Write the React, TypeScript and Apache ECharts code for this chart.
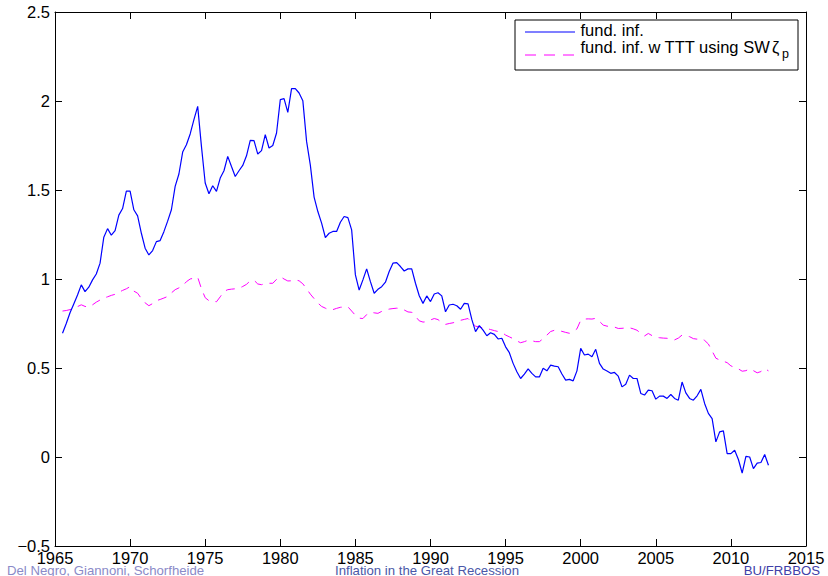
import React, { useEffect, useRef } from "react";
import * as echarts from "echarts";

// Quarterly observations, first one at 1965.50, last at 2012.50
const START_YEAR = 1965.5;
const QUARTER = 0.25;

const fundInf: number[] = [
  0.695, 0.75,
  0.81, 0.86, 0.91, 0.967,
  0.929, 0.954, 0.995, 1.028,
  1.089, 1.235, 1.283, 1.246,
  1.272, 1.359, 1.396, 1.494,
  1.494, 1.389, 1.355, 1.257,
  1.173, 1.135, 1.16, 1.21,
  1.216, 1.266, 1.325, 1.389,
  1.52, 1.59, 1.713, 1.754,
  1.815, 1.895, 1.97, 1.745,
  1.539, 1.479, 1.524, 1.492,
  1.567, 1.608, 1.689, 1.632,
  1.576, 1.608, 1.638, 1.692,
  1.779, 1.777, 1.702, 1.721,
  1.811, 1.736, 1.75, 1.82,
  2.008, 2.013, 1.936, 2.07,
  2.07, 2.045, 2.002, 1.773,
  1.64, 1.46, 1.379, 1.314,
  1.233, 1.257, 1.267, 1.267,
  1.319, 1.351, 1.345, 1.276,
  1.023, 0.938, 0.995, 1.057,
  0.985, 0.92, 0.942, 0.957,
  0.982, 1.042, 1.089, 1.092,
  1.07, 1.045, 1.057, 1.057,
  0.976, 0.906, 0.863, 0.905,
  0.873, 0.916, 0.923, 0.905,
  0.816, 0.854, 0.858, 0.85,
  0.83, 0.863, 0.86, 0.773,
  0.704, 0.738, 0.713, 0.681,
  0.698, 0.689, 0.663, 0.667,
  0.619, 0.586, 0.526, 0.479,
  0.441, 0.466, 0.495, 0.47,
  0.45, 0.45, 0.498, 0.484,
  0.516, 0.511, 0.507, 0.466,
  0.432, 0.436, 0.428, 0.484,
  0.61, 0.573, 0.578, 0.563,
  0.605, 0.526, 0.494, 0.483,
  0.47, 0.475, 0.454, 0.394,
  0.409, 0.46, 0.441, 0.441,
  0.357, 0.348, 0.376, 0.372,
  0.325, 0.342, 0.342, 0.329,
  0.351, 0.329, 0.319, 0.421,
  0.36, 0.329, 0.319, 0.344,
  0.38, 0.301, 0.245, 0.216,
  0.085, 0.141, 0.147, 0.019,
  0.019, 0.038, -0.014, -0.09,
  0.004, 0.0, -0.065, -0.034,
  -0.031, 0.014, -0.046,
];

const fundInfTTT: number[] = [
  0.82, 0.823,
  0.828, 0.835, 0.845, 0.855,
  0.846, 0.842, 0.855, 0.87,
  0.882, 0.893, 0.9, 0.908,
  0.914, 0.925, 0.936, 0.945,
  0.957, 0.932, 0.92, 0.89,
  0.866, 0.85, 0.862, 0.878,
  0.885, 0.893, 0.902, 0.922,
  0.94, 0.95, 0.962, 0.985,
  1.0, 1.005, 1.01, 0.945,
  0.895, 0.878, 0.876, 0.872,
  0.9, 0.93, 0.94, 0.943,
  0.945, 0.948, 0.958, 0.97,
  0.99, 0.993, 0.972, 0.968,
  0.975, 0.976, 0.976, 0.998,
  1.013, 1.0, 0.989, 0.99,
  0.995, 0.99, 0.973, 0.945,
  0.915, 0.89, 0.865, 0.846,
  0.836, 0.826, 0.828, 0.835,
  0.841, 0.843, 0.844, 0.82,
  0.796, 0.78, 0.778, 0.8,
  0.813, 0.81, 0.807, 0.818,
  0.826, 0.831, 0.834, 0.836,
  0.835, 0.826, 0.815, 0.813,
  0.79, 0.765, 0.758, 0.76,
  0.77, 0.778, 0.772, 0.755,
  0.745, 0.75, 0.754, 0.76,
  0.768, 0.773, 0.778, 0.755,
  0.735, 0.73, 0.726, 0.722,
  0.716, 0.71, 0.705, 0.7,
  0.685, 0.675, 0.665, 0.652,
  0.642, 0.648, 0.656, 0.653,
  0.648, 0.648, 0.665, 0.685,
  0.705, 0.712, 0.71, 0.706,
  0.7, 0.695, 0.705, 0.72,
  0.768, 0.775, 0.776, 0.775,
  0.779, 0.762, 0.741, 0.735,
  0.733, 0.73, 0.722, 0.723,
  0.725, 0.726, 0.72, 0.712,
  0.695, 0.68, 0.694, 0.682,
  0.673, 0.67, 0.668, 0.667,
  0.662, 0.658, 0.668, 0.685,
  0.68, 0.676, 0.665, 0.662,
  0.667, 0.655, 0.635, 0.595,
  0.555, 0.545, 0.538, 0.53,
  0.512, 0.503, 0.495, 0.482,
  0.485, 0.496, 0.485, 0.473,
  0.48, 0.497, 0.484,
];

const X_MIN = 1965;
const X_MAX = 2015;
const X_STEP = 5;
const Y_MIN = -0.5;
const Y_MAX = 2.5;
const Y_STEP = 0.5;

const legendNames = ["fund. inf.", "fund. inf. w TTT using SW"];
const footer = ["Del Negro, Giannoni, Schorfheide", "Inflation in the Great Recession", "BU/FRBBOS"];

const FONT = "'Liberation Sans', Arial, Helvetica, sans-serif";

function toPairs(vals: number[]): [number, number][] {
  return vals.map((v, i) => [START_YEAR + i * QUARTER, v]);
}

export default function App() {
  const ref = useRef<HTMLDivElement>(null);

  useEffect(() => {
    if (!ref.current) return;
    const chart = echarts.init(ref.current, undefined, { renderer: "svg" });

    const tick = { show: true, inside: true, length: 7, lineStyle: { color: "#000", width: 1 } };
    const axisLine = { show: true, onZero: false, lineStyle: { color: "#000", width: 1 } };
    const label = { color: "#000", fontSize: 16.5, fontFamily: FONT };

    chart.setOption({
      animation: false,
      backgroundColor: "#fff",
      grid: { left: 55, top: 12, right: 22, bottom: 30, containLabel: false },
      xAxis: [
        {
          type: "value",
          min: X_MIN,
          max: X_MAX,
          interval: X_STEP,
          position: "bottom",
          axisLine,
          axisTick: tick,
          splitLine: { show: false },
          axisLabel: { ...label, margin: 3, formatter: (v: number) => String(v) },
        },
        {
          type: "value",
          min: X_MIN,
          max: X_MAX,
          interval: X_STEP,
          position: "top",
          axisLine,
          axisTick: tick,
          splitLine: { show: false },
          axisLabel: { show: false },
        },
      ],
      yAxis: [
        {
          type: "value",
          min: Y_MIN,
          max: Y_MAX,
          interval: Y_STEP,
          position: "left",
          axisLine,
          axisTick: tick,
          splitLine: { show: false },
          axisLabel: {
            ...label,
            margin: 5,
            formatter: (v: number) => (v < 0 ? "\u2212" + String(Math.abs(v)) : String(v)),
          },
        },
        {
          type: "value",
          min: Y_MIN,
          max: Y_MAX,
          interval: Y_STEP,
          position: "right",
          axisLine,
          axisTick: tick,
          splitLine: { show: false },
          axisLabel: { show: false },
        },
      ],
      series: [
        {
          name: legendNames[0],
          type: "line",
          data: toPairs(fundInf),
          xAxisIndex: 0,
          yAxisIndex: 0,
          symbol: "none",
          showSymbol: false,
          lineStyle: { color: "#0000ff", width: 1.2 },
          z: 3,
        },
        {
          name: legendNames[1],
          type: "line",
          data: toPairs(fundInfTTT),
          xAxisIndex: 0,
          yAxisIndex: 0,
          symbol: "none",
          showSymbol: false,
          lineStyle: { color: "#ff00ff", width: 1, type: [9, 7] },
          z: 2,
        },
      ],
      graphic: [
        {
          type: "rect",
          shape: { x: 515, y: 20, width: 283, height: 50 },
          style: { fill: "#fff", stroke: "#000", lineWidth: 1 },
          z: 10,
        },
        {
          type: "line",
          shape: { x1: 525, y1: 32, x2: 575, y2: 32 },
          style: { stroke: "#0000ff", lineWidth: 1.2 },
          z: 11,
        },
        {
          type: "line",
          shape: { x1: 525, y1: 55, x2: 575, y2: 55 },
          style: { stroke: "#ff00ff", lineWidth: 1, lineDash: [11, 8] },
          z: 11,
        },
        {
          type: "text",
          x: 580.5,
          y: 29.5,
          style: { text: legendNames[0], fill: "#000", fontSize: 16.5, fontFamily: FONT, verticalAlign: "middle" },
          z: 11,
        },
        {
          type: "text",
          x: 580.5,
          y: 47,
          style: { text: legendNames[1], fill: "#000", fontSize: 16.5, fontFamily: FONT, verticalAlign: "middle" },
          z: 11,
        },
        {
          type: "text",
          x: 772,
          y: 47,
          style: { text: "\u03B6", fill: "#000", fontSize: 16.5, fontFamily: FONT, verticalAlign: "middle" },
          z: 11,
        },
        {
          type: "text",
          x: 782,
          y: 54,
          style: { text: "p", fill: "#000", fontSize: 12.5, fontFamily: FONT, verticalAlign: "middle" },
          z: 11,
        },
        {
          type: "text",
          x: 7,
          y: 570.5,
          style: { text: footer[0], fill: "#8a8ac8", fontSize: 13.2, fontFamily: FONT, verticalAlign: "middle" },
        },
        {
          type: "text",
          x: 427,
          y: 570.5,
          style: { text: footer[1], fill: "#4a58a8", fontSize: 13.2, fontFamily: FONT, verticalAlign: "middle", align: "center" },
        },
        {
          type: "text",
          x: 820,
          y: 570.5,
          style: { text: footer[2], fill: "#4040a8", fontSize: 13.2, fontFamily: FONT, verticalAlign: "middle", align: "right" },
        },
      ],
    });

    return () => chart.dispose();
  }, []);

  return (
    <div
      ref={ref}
      style={{ position: "fixed", left: 0, top: 0, width: 828, height: 576, background: "#fff" }}
    />
  );
}
